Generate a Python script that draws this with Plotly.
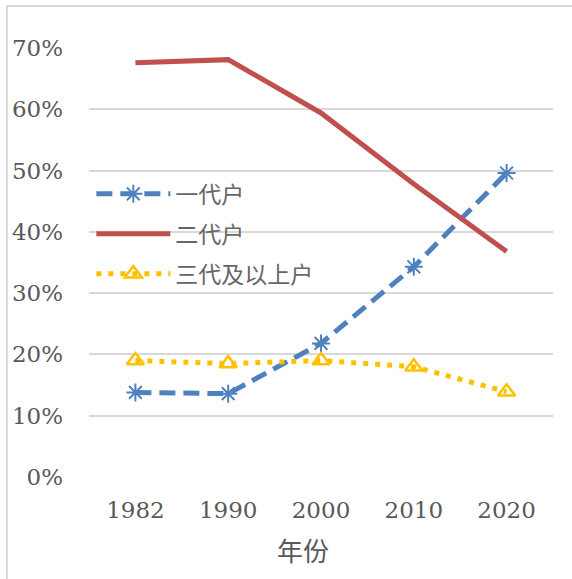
import plotly.graph_objects as go

years = ['1982', '1990', '2000', '2010', '2020']
one_gen = [0.138, 0.136, 0.218, 0.343, 0.496]
two_gen = [0.676, 0.681, 0.594, 0.478, 0.368]
three_gen = [0.190, 0.185, 0.190, 0.180, 0.139]

tick_vals = [0, 0.1, 0.2, 0.3, 0.4, 0.5, 0.6, 0.7]
tick_text = ['0%', '10%', '20%', '30%', '40%', '50%', '60%', '70%']

fig = go.Figure()
fig.add_trace(go.Scatter(
    x=years, y=one_gen, name='一代户', legendgroup='a', mode='lines+markers',
    line=dict(color='#4F81BD', width=5, dash='16px,8px'),
    marker=dict(symbol='asterisk-open', size=15, line=dict(color='#4F81BD', width=2))))
fig.add_trace(go.Scatter(
    x=years, y=two_gen, name='二代户', legendgroup='b', mode='lines',
    line=dict(color='#C0504D', width=5)))
fig.add_trace(go.Scatter(
    x=years, y=three_gen, name='三代及以上户', legendgroup='c', mode='lines+markers',
    line=dict(color='#FFC000', width=5, dash='5px,7px'),
    marker=dict(symbol='triangle-up-open', size=15, line=dict(color='#FFC000', width=2.5))))

# chart border (cropped at right and bottom)
fig.add_shape(type='rect', xref='paper', yref='paper',
              x0=-0.177, x1=1.2, y0=-0.4, y1=1.098,
              line=dict(color='#D9D9D9', width=2))

fig.add_annotation(text='年份', xref='paper', yref='paper', x=0.461, y=-0.17,
                   yanchor='middle', showarrow=False,
                   font=dict(family='Noto Sans CJK SC', size=26, color='#595959'))

fig.update_layout(
    width=572, height=579,
    margin=dict(l=89, r=19, t=48, b=102),
    plot_bgcolor='white', paper_bgcolor='white',
    showlegend=True,
    legend=dict(x=0.005, y=0.71, xanchor='left', yanchor='top',
                font=dict(family='Noto Sans CJK SC', size=23, color='#666666'),
                bgcolor='rgba(0,0,0,0)', tracegroupgap=7, itemwidth=74),
    xaxis=dict(type='category', range=[-0.5, 4.5], showgrid=False, showline=False, ticks='',
               ticklabelstandoff=17,
               tickfont=dict(family='DejaVu Serif', size=23, color='#595959')),
    yaxis=dict(range=[0, 0.7], tickvals=tick_vals, ticktext=tick_text,
               showgrid=True, gridcolor='#D9D9D9', gridwidth=2, zeroline=False,
               ticklabelstandoff=25,
               tickfont=dict(family='DejaVu Serif', size=23, color='#595959')),
)

fig.write_html('out.html', config={'displayModeBar': False},
               post_script="document.body.style.margin='0';")
